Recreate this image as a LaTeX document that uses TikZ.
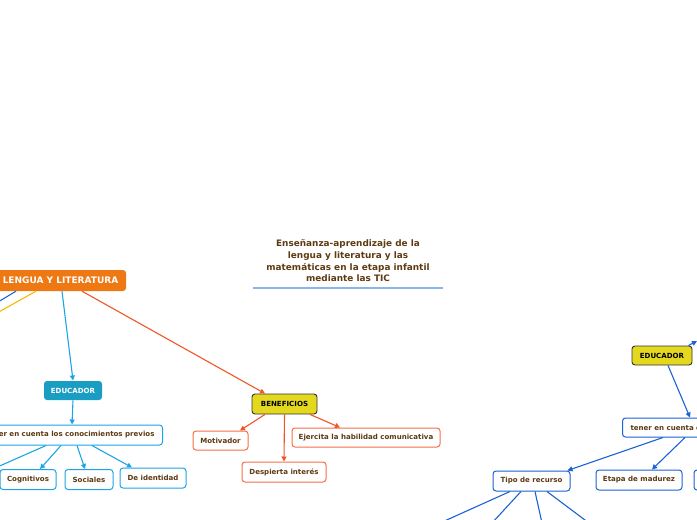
\documentclass[tikz,border=0pt]{standalone}
\usepackage{fontspec}
\setmainfont{DejaVu Sans}
\usetikzlibrary{arrows.meta}
\definecolor{txtbrown}{HTML}{5E3A12}
\definecolor{orangefill}{HTML}{EE7812}
\definecolor{tealfill}{HTML}{1A9DC2}
\definecolor{yelfill}{HTML}{E4D81E}
\definecolor{lblue}{HTML}{1BA5E6}
\definecolor{dblue}{HTML}{1B62D6}
\definecolor{oredge}{HTML}{F25525}
\definecolor{orborder}{HTML}{F47048}
\definecolor{yeledge}{HTML}{F7B800}
\definecolor{ulblue}{HTML}{8AB4EE}
\tikzset{
  smalltxt/.style={font=\fontsize{7.05}{8.5}\selectfont\bfseries},
  boxbase/.style={rounded corners=3pt, inner sep=0pt, smalltxt, line width=1pt},
  leafblue/.style={boxbase, draw=lblue, fill=white, text=txtbrown},
  leafdblue/.style={boxbase, draw=dblue, fill=white, text=txtbrown},
  leaforange/.style={boxbase, draw=orborder, fill=white, text=txtbrown},
  yelbox/.style={boxbase, draw=black!80, fill=yelfill, text=black, line width=0.9pt},
  tealbox/.style={boxbase, draw=none, fill=tealfill, text=white},
  mainbox/.style={rounded corners=3pt, inner sep=0pt, fill=orangefill, text=white,
     font=\fontsize{9}{10.5}\selectfont\bfseries},
  link/.style={line width=1.1pt, -{Triangle[length=5pt,width=5pt]}},
  plainlink/.style={line width=1.1pt}
}
\begin{document}
\begin{tikzpicture}[x=1pt,y=-1pt]
\useasboundingbox (0,0) rectangle (697,520);
\clip (0,0) rectangle (697,520);

% title
\node[text=txtbrown, align=center, font=\fontsize{8.9}{11.7}\selectfont\bfseries, inner sep=0pt]
  (title) at (348,261) {Enseñanza-aprendizaje de la\\lengua y literatura y las\\matemáticas en la etapa infantil\\mediante las TIC};
\coordinate (ulL) at (253,288);
\coordinate (ulR) at (443,288);
\draw[ulblue, line width=1.6pt] (ulL) -- (ulR);

% nodes
\node[mainbox, minimum width=131pt, minimum height=21pt] (lengua) at (60.5,280.5) {LENGUA Y LITERATURA};
\node[tealbox, minimum width=58pt, minimum height=19pt] (edu1) at (73,390.5) {EDUCADOR};
\node[leafblue, inner xsep=8pt, minimum height=20pt, anchor=east] (tener1) at (163,435) {Tener en cuenta los conocimientos previos};
\node[leafblue, minimum width=56pt, minimum height=20pt] (cog) at (28,479.5) {Cognitivos};
\node[leafblue, minimum width=48pt, minimum height=20pt] (soc) at (89,479.5) {Sociales};
\node[leafblue, minimum width=66pt, minimum height=20pt] (ident) at (153,478) {De identidad};
\node[yelbox, minimum width=65pt, minimum height=20pt] (benef) at (284.5,404) {BENEFICIOS};
\node[leaforange, minimum width=55pt, minimum height=19pt] (motiv) at (220.5,440.5) {Motivador};
\node[leaforange, minimum width=84pt, minimum height=20pt] (desp) at (284,472) {Despierta interés};
\node[leaforange, minimum width=148pt, minimum height=19pt] (ejer) at (366,437.5) {Ejercita la habilidad comunicativa};
\node[yelbox, minimum width=60pt, minimum height=19pt] (edu2) at (662,355.5) {EDUCADOR};
\node[leafdblue, inner xsep=8pt, minimum height=19pt, anchor=west] (tener2) at (622,427.5) {tener en cuenta el};
\node[leafdblue, minimum width=77pt, minimum height=20pt] (tipo) at (531.5,481) {Tipo de recurso};
\node[leafdblue, minimum width=86pt, minimum height=20pt] (etapa) at (639,480) {Etapa de madurez};
\node[leafdblue, minimum width=72pt, minimum height=20pt] (hidden) at (730,480) {};

\coordinate (offA) at (-12,308);
\coordinate (offB) at (-12,318);
\coordinate (offC) at (-14,472);
\coordinate (upR) at (697,341);
\coordinate (t1) at (440,523);
\coordinate (t2) at (492,523);
\coordinate (t3) at (542,523);
\coordinate (t4) at (589,523);

% left branch edges
\draw[plainlink, dblue] ([xshift=-44.5pt]lengua.south) -- (offA);
\draw[plainlink, yeledge] ([xshift=-24.5pt]lengua.south) -- (offB);
\draw[link, lblue] ([xshift=1.5pt]lengua.south) -- (edu1.north);
\draw[link, oredge] ([xshift=21.5pt]lengua.south) -- ([xshift=-19.5pt]benef.north);
\draw[link, lblue] (edu1.south) -- ([xshift=-1pt]edu1.south |- tener1.north);
\draw[plainlink, lblue] ([xshift=-117pt]tener1.south east) -- (offC);
\draw[link, lblue] ([xshift=-102pt]tener1.south east) -- ([xshift=12pt]cog.north);
\draw[link, lblue] ([xshift=-86pt]tener1.south east) -- ([xshift=-4pt]soc.north);
\draw[link, lblue] ([xshift=-71pt]tener1.south east) -- ([xshift=-21pt]ident.north);

% beneficios edges
\draw[link, oredge] ([xshift=-19.5pt]benef.south) -- ([xshift=19.5pt]motiv.north);
\draw[link, oredge] (benef.south) -- (desp.north);
\draw[link, oredge] ([xshift=25.5pt]benef.south) -- ([xshift=-26pt]ejer.north);

% right branch edges
\draw[link, dblue] ([xshift=-4pt]edu2.north east) -- (upR);
\draw[link, dblue] ([xshift=6pt]edu2.south) -- ([xshift=68pt]tener2.north west);
\draw[link, dblue] ([xshift=41pt]tener2.south west) -- ([xshift=36pt]tipo.north);
\draw[link, dblue] ([xshift=63pt]tener2.south west) -- ([xshift=13pt]etapa.north);
\draw[plainlink, dblue] ([xshift=-21.5pt]tipo.south) -- (t1);
\draw[plainlink, dblue] ([xshift=-10.5pt]tipo.south) -- (t2);
\draw[plainlink, dblue] ([xshift=3.5pt]tipo.south) -- (t3);
\draw[plainlink, dblue] ([xshift=15.5pt]tipo.south) -- (t4);
\end{tikzpicture}
\end{document}
